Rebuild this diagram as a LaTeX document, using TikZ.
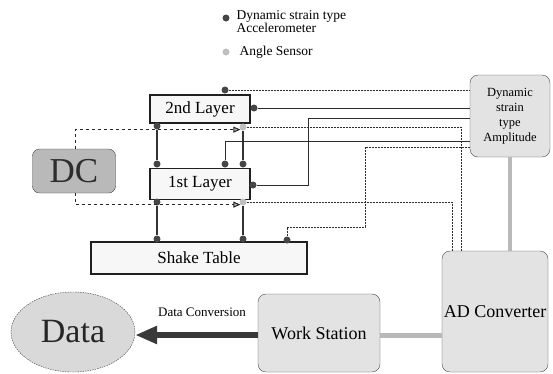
\documentclass[tikz,border=0pt]{standalone}
\usepackage{fontspec}
\setmainfont{Liberation Serif}
\newfontfamily\timesfont{Liberation Serif}
\usetikzlibrary{positioning, arrows.meta, shapes, shapes.geometric, arrows}

\begin{document}
\begin{tikzpicture}[x=1pt, y=-1pt,
        every node/.style={font=\timesfont},
        layer/.style={draw=gray!25!black, line width=1.3pt, fill=gray!6, inner sep=0pt, font=\timesfont\fontsize{17}{20}\selectfont},
        unit/.style={draw=gray!55!black, rounded corners=8pt, fill=gray!22, inner sep=0pt, align=center},
        acc/.style={circle, fill=gray!55!black, inner sep=0pt, minimum size=7pt},
        ang/.style={circle, fill=gray!50, inner sep=0pt, minimum size=7pt},
        accline/.style={gray!35!black, line width=1pt},
        sigline/.style={gray!35!black, line width=1pt, dash pattern=on 1pt off 0.5pt},
        post/.style={gray!40!black, line width=2.4pt},
        bus/.style={gray!55, line width=4pt},
        ctrl/.style={gray!30!black, line width=1pt, dashed, -{Triangle[length=7pt, width=6pt, fill=gray!60]}}]
        \useasboundingbox (0,0) rectangle (553,373);

        \node[acc] (legacc) at (226,18) {};
        \node[anchor=west, align=left, font=\timesfont\fontsize{13.5}{13}\selectfont] (legacctext) at (233,21.5) {Dynamic strain type\\Accelerometer};
        \node[ang] (legang) at (226,52) {};
        \node[anchor=west, font=\timesfont\fontsize{13.5}{13}\selectfont] (legangtext) at (236,52) {Angle Sensor};

        \node[layer, minimum width=100pt, minimum height=28pt] (second) at (200,109) {2nd Layer};
        \node[layer, minimum width=100pt, minimum height=31pt] (first) at (200,184) {1st Layer};
        \node[layer, minimum width=216pt, minimum height=32pt] (table) at (199,258) {Shake Table};

        \node[draw=gray!50!black, fill=gray!55, rounded corners=7pt, minimum width=83pt, minimum height=44pt, inner sep=0pt,
              text=gray!35!black, font=\timesfont\fontsize{35}{35}\selectfont] (dc) at (74,171) {DC};

        \node[unit, minimum width=80pt, minimum height=82pt, font=\timesfont\fontsize{12.5}{15}\selectfont] (amp) at (510,116) {Dynamic\\strain\\type\\Amplitude};
        \node[unit, minimum width=106pt, minimum height=121pt, font=\timesfont\fontsize{18}{20}\selectfont] (adc) at (495,311.5) {AD Converter};
        \node[unit, minimum width=122pt, minimum height=78pt, font=\timesfont\fontsize{18}{20}\selectfont] (ws) at (319,333) {Work Station};
        \node[ellipse, draw=gray!50!black, dash pattern=on 1.5pt off 1pt, fill=gray!30, minimum width=124pt, minimum height=80pt, inner sep=0pt,
              text=gray!30!black, font=\timesfont\fontsize{34}{34}\selectfont] (data) at (73,332) {Data};

        \node[acc] (s2top) at (225,90) {};
        \node[acc] (s2right) at (254,108) {};
        \node[acc] (s2bl) at (157,126) {};
        \node[ang] (s2br) at (243,127) {};
        \node[acc] (s1tl) at (157,164) {};
        \node[acc] (s1tm) at (225,164) {};
        \node[acc] (s1tr) at (243,164) {};
        \node[acc] (s1right) at (253,185) {};
        \node[acc] (s1bl) at (157,202) {};
        \node[ang] (s1br) at (243,202) {};
        \node[acc] (stl) at (157,239) {};
        \node[acc] (str) at (243,239) {};
        \node[acc] (stm) at (287,240) {};

        \draw[post] (s2bl) -- (s1tl);
        \draw[post] (s2br) -- (s1tr);
        \draw[post] (s1bl) -- (stl);
        \draw[post] (s1br) -- (str);

        \draw[sigline] (s2top) -- (s2top -| amp.west);
        \draw[accline] (s2right) -- (s2right -| amp.west);
        \draw[accline] (s1right) -| (308,118) -- (amp.west |- 0,118);
        \draw[sigline] (s2br.east) -| (adc.north -| 461,0);
        \draw[accline] (s1tm) |- (amp.west |- 0,141);
        \draw[sigline] (stm) |- (365,227) |- (amp.west |- 0,147);
        \draw[sigline] (s1br.east) -| (adc.north -| 452,0);

        \draw[ctrl] (dc.north -| 75,0) |- (s2br.south west);
        \draw[ctrl] (dc.south -| 75,0) |- (s1br.south west);

        \draw[bus] (amp.south) -- (amp.south |- adc.north);
        \draw[bus, line width=5pt] (ws.east |- 0,335) -- (adc.west |- 0,335);
        \draw[gray!45!black, line width=6pt, -{Triangle[length=22pt, width=17pt]}] (ws.west |- 0,335) -- (data.east |- 0,335);
        \node[font=\timesfont\fontsize{13}{13}\selectfont] (conv) at (202,312) {Data Conversion};
\end{tikzpicture}
\end{document}
